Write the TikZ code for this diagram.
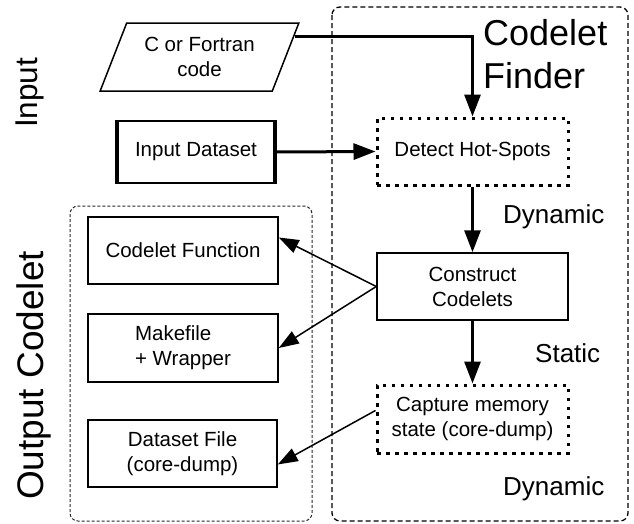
\documentclass[tikz,border=0pt]{standalone}
\usepackage{fontspec}
\setmainfont{Liberation Sans}
\usetikzlibrary{arrows.meta,calc,shapes.geometric}

\tikzset{
  box/.style={draw, line width=1.5pt, inner sep=0pt, align=center,
    font=\fontsize{20.5}{25}\selectfont},
  dotbox/.style={box, line width=3pt, dash pattern=on 3.5pt off 5.5pt},
  flow/.style={line width=3pt, -{Triangle[length=22pt,width=16pt]}},
  outarrow/.style={line width=1.5pt, -{Triangle[length=20pt,width=14pt]}},
  tag/.style={inner sep=0pt, font=\fontsize{26}{30}\selectfont},
}

\begin{document}
\begin{tikzpicture}[x=1pt, y=-1pt]
  \useasboundingbox (0,0) rectangle (634,523);

  %%%%% frames %%%%%
  \draw[line width=1.3pt, dash pattern=on 5pt off 3pt, rounded corners=8pt]
    (332,7) rectangle (628,521);
  \draw[line width=1pt, black!85, dash pattern=on 3pt off 2pt, rounded corners=8pt]
    (70,206) rectangle (312,521);

  \node[inner sep=0pt, rotate=90, anchor=base west, font=\fontsize{31.5}{36}\selectfont]
    (inlbl) at (37,128) {Input};
  \node[inner sep=0pt, rotate=90, anchor=base west, font=\fontsize{37}{42}\selectfont]
    (outlbl) at (43,500) {Output Codelet};
  \node[inner sep=0pt, anchor=base west, align=left, font=\fontsize{36}{43}\selectfont]
    (finder) at (483,88) {Codelet\\Finder};

  %%%%% inputs %%%%%
  \node[box, trapezium, trapezium left angle=63, trapezium right angle=117,
    trapezium stretches=true, minimum width=199pt, minimum height=68pt]
    (code) at (199.5,57) {C or Fortran\\code};
  \node[box, minimum width=156pt, minimum height=62pt] (data) at (196,152) {Input Dataset};
  \draw[line width=4pt] (data.north west) -- (data.south west);
  \draw[line width=4pt] (data.north east) -- (data.south east);

  %%%%% codelet finder %%%%%
  \node[dotbox, minimum width=191pt, minimum height=67pt] (detect) at (472.5,151.5) {Detect Hot-Spots};
  \node[box, minimum width=191pt, minimum height=67pt] (build) at (472.5,286.5) {Construct\\Codelets};
  \node[dotbox, minimum width=191pt, minimum height=68pt] (capture) at (472.5,419) {Capture memory\\state (core-dump)};

  \node[tag, anchor=base west] (dyn1) at (503,223) {Dynamic};
  \node[tag, anchor=base west] (stat) at (535,362) {Static};
  \node[tag, anchor=base west] (dyn2) at (503,495) {Dynamic};

  %%%%% output codelet %%%%%
  \node[box, minimum width=190pt, minimum height=67pt] (func) at (183,250.5) {Codelet Function};
  \node[box, minimum width=190pt, minimum height=68pt, align=left] (make) at (183,348) {Makefile\\+ Wrapper};
  \node[box, minimum width=189pt, minimum height=67pt] (dump) at (182.5,453.5) {Dataset File\\(core-dump)};

  %%%%% connectors %%%%%
  \draw[flow] ($(code.top right corner)!0.2!(code.bottom right corner)$) -| (detect.north);
  \draw[flow] (data.east) -- (detect.west);
  \draw[flow] (detect.south) -- (build.north);
  \draw[flow] (build.south) -- (capture.north);

  \draw[outarrow] (build.west) -- ($(func.north east)!0.31!(func.south east)$);
  \draw[outarrow] (build.west) -- (make.east);
  \draw[outarrow] ($(capture.north west)!0.38!(capture.south west)$) -- ($(dump.north east)!0.66!(dump.south east)$);
\end{tikzpicture}
\end{document}
